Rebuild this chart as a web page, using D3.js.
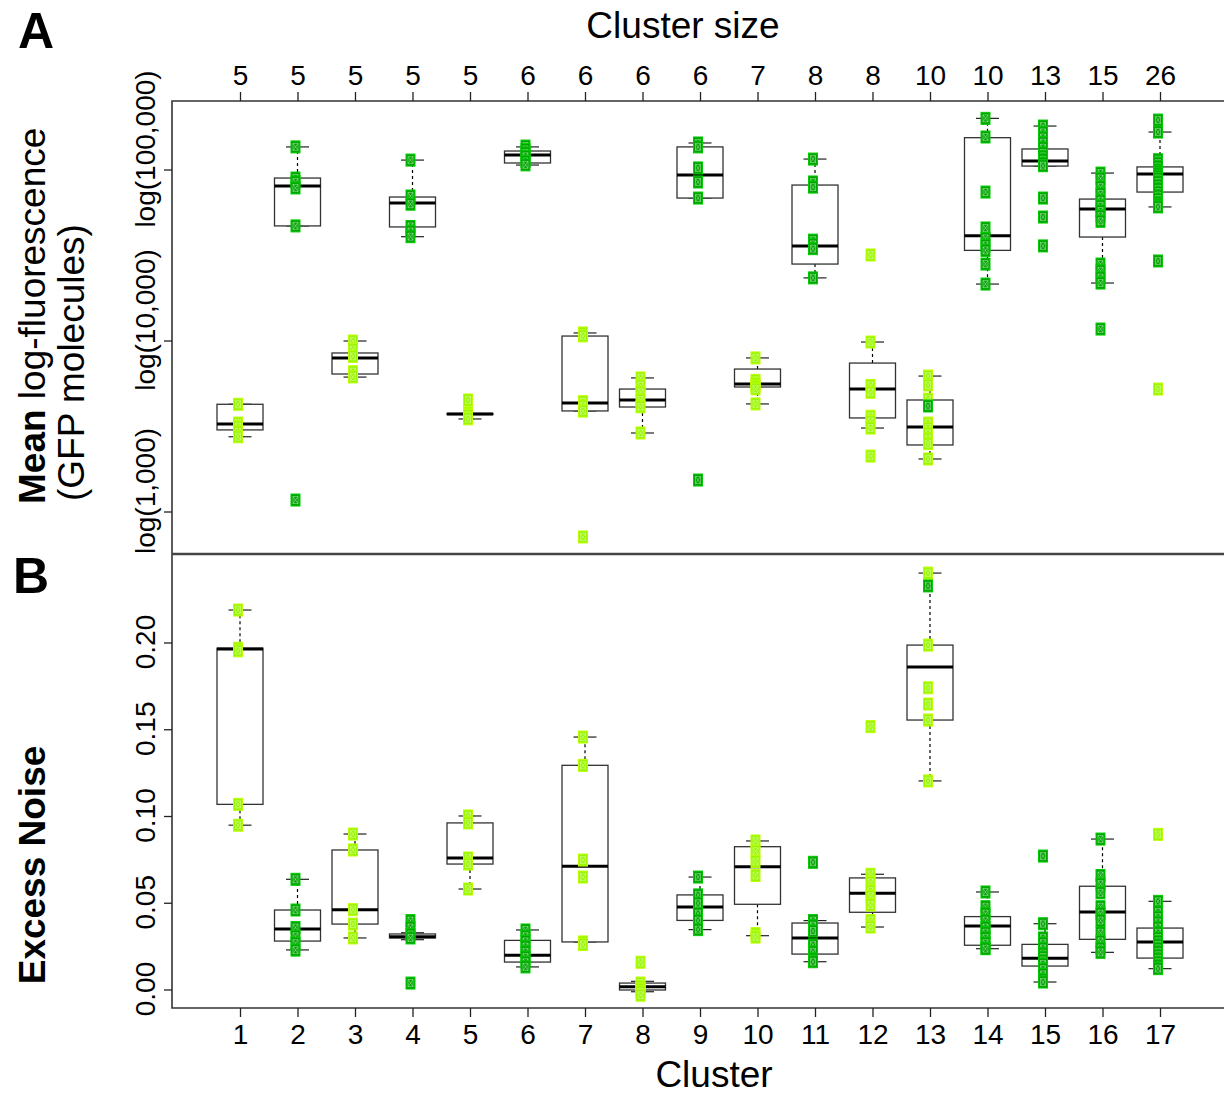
<!DOCTYPE html>
<html>
<head>
<meta charset="utf-8">
<script src="https://cdn.jsdelivr.net/npm/d3@7"></script>
<style>
  body { margin: 0; background: #fff; }
  svg text { font-family: "Liberation Sans", Arial, sans-serif; fill: #000; }
</style>
</head>
<body>
<div id="chart"></div>
<script>
// clusters and their sizes (top axis)
const clusters = d3.range(1, 18);
const clusterSizes = [5, 5, 5, 5, 5, 6, 6, 6, 6, 7, 8, 8, 10, 10, 13, 15, 26];

// panel A: log10 mean fluorescence, box stats [lo whisker, q1, median, q3, hi whisker]
const boxA = [
  [3.44, 3.48, 3.515, 3.63, 3.63],
  [4.673, 4.673, 4.906, 4.953, 5.135],
  [3.789, 3.807, 3.901, 3.93, 4.0],
  [4.61, 4.667, 4.807, 4.842, 5.058],
  [3.544, 3.57, 3.573, 3.576, 3.576],
  [5.029, 5.041, 5.088, 5.111, 5.135],
  [3.591, 3.591, 3.637, 4.029, 4.047],
  [3.462, 3.614, 3.655, 3.719, 3.784],
  [4.836, 4.836, 4.971, 5.135, 5.158],
  [3.632, 3.731, 3.749, 3.836, 3.901],
  [4.369, 4.45, 4.556, 4.912, 5.064],
  [3.491, 3.55, 3.719, 3.871, 3.994],
  [3.31, 3.392, 3.497, 3.655, 3.795],
  [4.333, 4.53, 4.616, 5.189, 5.302],
  [5.023, 5.023, 5.053, 5.123, 5.257],
  [4.339, 4.608, 4.772, 4.83, 4.982],
  [4.784, 4.871, 4.977, 5.018, 5.222]
];
// panel A points, light green and dark green
const lightA = [
  [3.63, 3.52, 3.5, 3.47, 3.44],
  [],
  [4.0, 3.95, 3.91, 3.82, 3.79],
  [],
  [3.655, 3.58, 3.572, 3.565, 3.545],
  [],
  [4.047, 4.03, 3.645, 3.62, 3.59, 2.854],
  [3.784, 3.74, 3.7, 3.655, 3.615, 3.462],
  [],
  [3.901, 3.77, 3.75, 3.735, 3.72, 3.632],
  [],
  [4.503, 3.994, 3.74, 3.7, 3.56, 3.53, 3.491, 3.327],
  [3.795, 3.743, 3.66, 3.52, 3.49, 3.46, 3.43, 3.4, 3.31],
  [],
  [],
  [],
  [3.719]
];
const darkA = [
  [],
  [5.135, 4.953, 4.93, 4.895, 4.673, 3.07],
  [],
  [5.058, 4.848, 4.8, 4.67, 4.64, 4.61],
  [],
  [5.14, 5.12, 5.1, 5.08, 5.05, 5.03],
  [],
  [],
  [5.158, 5.135, 5.012, 4.93, 4.836, 3.187],
  [],
  [5.064, 4.93, 4.9, 4.59, 4.565, 4.54, 4.369],
  [],
  [3.62],
  [5.302, 5.193, 4.871, 4.661, 4.6, 4.56, 4.53, 4.45, 4.333],
  [5.257, 5.22, 5.19, 5.16, 5.13, 5.1, 5.08, 5.06, 5.04, 5.025, 4.836, 4.725, 4.556],
  [4.982, 4.95, 4.9, 4.86, 4.82, 4.79, 4.76, 4.73, 4.7, 4.45, 4.41, 4.37, 4.339, 4.07],
  [5.292, 5.222, 5.06, 5.04, 5.02, 5.0, 4.99, 4.98, 4.97, 4.96, 4.95, 4.93, 4.91, 4.89,
   4.87, 4.85, 4.83, 4.81, 4.8, 4.79, 4.784, 4.468]
];
const ticksA = [3, 4, 5];
const tickLabelsA = ['log(1,000)', 'log(10,000)', 'log(100,000)'];

// panel B: excess noise
const boxB = [
  [0.095, 0.107, 0.1965, 0.197, 0.219],
  [0.0231, 0.0282, 0.0352, 0.0461, 0.0638],
  [0.03, 0.038, 0.0463, 0.0807, 0.0899],
  [0.029, 0.03, 0.0307, 0.0323, 0.033],
  [0.0582, 0.0726, 0.0761, 0.0963, 0.1003],
  [0.0133, 0.0161, 0.02, 0.0286, 0.0346],
  [0.0277, 0.0277, 0.0713, 0.1295, 0.1458],
  [-0.001, 0.0, 0.0019, 0.004, 0.005],
  [0.0348, 0.0401, 0.0478, 0.0548, 0.0651],
  [0.0313, 0.0494, 0.0711, 0.0826, 0.0859],
  [0.0163, 0.0207, 0.03, 0.0386, 0.04],
  [0.0363, 0.0448, 0.0557, 0.0646, 0.0667],
  [0.1205, 0.1556, 0.1862, 0.1988, 0.2403],
  [0.0238, 0.0258, 0.0369, 0.0423, 0.0565],
  [0.0046, 0.0138, 0.0183, 0.0263, 0.0382],
  [0.0217, 0.0292, 0.045, 0.0598, 0.087],
  [0.0123, 0.0184, 0.0277, 0.0357, 0.0511]
];
const lightB = [
  [0.219, 0.197, 0.1955, 0.107, 0.095],
  [],
  [0.0899, 0.0807, 0.0463, 0.038, 0.03],
  [],
  [0.1003, 0.0963, 0.0761, 0.0726, 0.0582],
  [],
  [0.1458, 0.1295, 0.0749, 0.0651, 0.0277, 0.0262],
  [0.016, 0.004, 0.002, 0.0005, -0.001, -0.003],
  [],
  [0.0859, 0.08, 0.074, 0.066, 0.0325, 0.0305],
  [],
  [0.1518, 0.0667, 0.062, 0.057, 0.054, 0.049, 0.04, 0.0363],
  [0.2403, 0.1988, 0.1742, 0.1648, 0.1556, 0.1205],
  [],
  [],
  [],
  [0.0897]
];
const darkB = [
  [],
  [0.0638, 0.0461, 0.036, 0.031, 0.027, 0.023],
  [],
  [0.04, 0.036, 0.032, 0.03, 0.004],
  [],
  [0.0346, 0.031, 0.028, 0.025, 0.022, 0.019, 0.016, 0.0133],
  [],
  [],
  [0.0651, 0.0548, 0.05, 0.044, 0.04, 0.0348],
  [],
  [0.0736, 0.04, 0.037, 0.034, 0.026, 0.022, 0.018, 0.0163],
  [],
  [0.2329],
  [0.0565, 0.048, 0.044, 0.04, 0.036, 0.033, 0.03, 0.027, 0.024, 0.0238],
  [0.0772, 0.0382, 0.03, 0.027, 0.024, 0.021, 0.019, 0.017, 0.015, 0.012, 0.009, 0.006, 0.0046],
  [0.087, 0.066, 0.061, 0.056, 0.048, 0.044, 0.04, 0.033, 0.028, 0.024, 0.0217],
  [0.0511, 0.045, 0.042, 0.039, 0.036, 0.033, 0.03, 0.028, 0.026, 0.024, 0.022, 0.02,
   0.018, 0.016, 0.014, 0.0123]
];
const ticksB = [0, 0.05, 0.1, 0.15, 0.2];

const width = 1224;
const height = 1095;
const frame = { left: 172, right: 1226, topA: 101, mid: 554, bottomB: 1008 };
const LIGHT = '#99f700';
const DARK = '#00a500';

const svg = d3.select('#chart').append('svg')
  .attr('width', width)
  .attr('height', height);

const x = d3.scaleLinear().domain([1, 17]).range([240, 1160]);
const yA = d3.scaleLinear().domain([3, 5]).range([512, 170]);
const yB = d3.scaleLinear().domain([0, 0.2]).range([990, 643]);

const boxHalf = 23;
const capHalf = 11.5;

function drawBoxes(g, boxes, y) {
  boxes.forEach((b, i) => {
    const cx = x(clusters[i]);
    const [lo, q1, med, q3, hi] = b.map(y);
    // dashed whiskers
    g.append('line').attr('x1', cx).attr('x2', cx).attr('y1', q3).attr('y2', hi)
      .attr('stroke', '#000').attr('stroke-width', 1.2).attr('stroke-dasharray', '3,3');
    g.append('line').attr('x1', cx).attr('x2', cx).attr('y1', q1).attr('y2', lo)
      .attr('stroke', '#000').attr('stroke-width', 1.2).attr('stroke-dasharray', '3,3');
    // caps
    [lo, hi].forEach((v) => {
      g.append('line').attr('x1', cx - capHalf).attr('x2', cx + capHalf)
        .attr('y1', v).attr('y2', v).attr('stroke', '#222').attr('stroke-width', 1.2);
    });
    // box
    g.append('rect').attr('x', cx - boxHalf).attr('y', q3)
      .attr('width', boxHalf * 2).attr('height', Math.max(q1 - q3, 0.5))
      .attr('fill', '#fff').attr('stroke', '#333').attr('stroke-width', 1.3);
    // median
    g.append('line').attr('x1', cx - boxHalf).attr('x2', cx + boxHalf)
      .attr('y1', med).attr('y2', med).attr('stroke', '#000').attr('stroke-width', 3);
  });
}

function drawPoints(g, pts, y, color) {
  pts.forEach((arr, i) => {
    const cx = x(clusters[i]) - 2;
    arr.forEach((v) => {
      const py = y(v);
      g.append('rect').attr('x', cx - 4.5).attr('y', py - 6)
        .attr('width', 9).attr('height', 12)
        .attr('fill', color).attr('stroke', d3.color(color).brighter(0.6)).attr('stroke-width', 1);
      g.append('path')
        .attr('d', `M${cx - 2.5},${py - 3.5}L${cx + 2.5},${py + 3.5}M${cx + 2.5},${py - 3.5}L${cx - 2.5},${py + 3.5}M${cx - 2.5},${py - 3.5}H${cx + 2.5}V${py + 3.5}H${cx - 2.5}Z`)
        .attr('fill', 'none').attr('stroke', 'rgba(255,255,255,0.45)').attr('stroke-width', 0.8);
    });
  });
}

const gA = svg.append('g');
const gB = svg.append('g');
drawBoxes(gA, boxA, yA);
drawPoints(gA, lightA, yA, LIGHT);
drawPoints(gA, darkA, yA, DARK);
drawBoxes(gB, boxB, yB);
drawPoints(gB, lightB, yB, LIGHT);
drawPoints(gB, darkB, yB, DARK);

// frames
svg.append('path')
  .attr('d', `M${frame.right},${frame.topA}H${frame.left}V${frame.bottomB}H${frame.right}`)
  .attr('fill', 'none').attr('stroke', '#333').attr('stroke-width', 1.6);
svg.append('line').attr('x1', frame.left).attr('x2', frame.right)
  .attr('y1', frame.mid).attr('y2', frame.mid)
  .attr('stroke', '#444').attr('stroke-width', 2.6);

// top axis: cluster size
const topAxis = svg.append('g')
  .attr('transform', `translate(0,${frame.topA})`)
  .call(d3.axisTop(x).tickValues(clusters).tickFormat((d, i) => clusterSizes[i])
    .tickSize(9).tickPadding(7));
topAxis.select('.domain').remove();
topAxis.selectAll('text').style('font-size', '28px');

// bottom axis: cluster
const bottomAxis = svg.append('g')
  .attr('transform', `translate(0,${frame.bottomB})`)
  .call(d3.axisBottom(x).tickValues(clusters).tickFormat(d3.format('d'))
    .tickSize(9).tickPadding(7));
bottomAxis.select('.domain').remove();
bottomAxis.selectAll('text').style('font-size', '28px');

// rotated y tick labels (shift moves the label centre along the axis)
function leftAxis(scale, values, fmt, shift) {
  const g = svg.append('g')
    .attr('transform', `translate(${frame.left},0)`)
    .call(d3.axisLeft(scale).tickValues(values).tickFormat(fmt).tickSize(8));
  g.select('.domain').remove();
  g.selectAll('.tick').attr('transform', null);
  g.selectAll('.tick line').attr('y1', (d) => scale(d)).attr('y2', (d) => scale(d));
  g.selectAll('text')
    .attr('transform', (d) => `translate(-17,${scale(d) + shift}) rotate(-90)`)
    .attr('x', 0).attr('y', 0).attr('dy', 0)
    .attr('text-anchor', 'middle')
    .style('font-size', '28px');
  return g;
}
leftAxis(yA, ticksA, (d, i) => tickLabelsA[i], -21);
leftAxis(yB, ticksB, d3.format('.2f'), -1);

svg.selectAll('.tick line').attr('stroke', '#222').attr('stroke-width', 1.3);

// titles
svg.append('text').attr('x', 683).attr('y', 38)
  .attr('text-anchor', 'middle').style('font-size', '37px')
  .text('Cluster size');
svg.append('text').attr('x', 714).attr('y', 1087)
  .attr('text-anchor', 'middle').style('font-size', '37px')
  .text('Cluster');

svg.append('text').attr('x', 18).attr('y', 48)
  .style('font-size', '50px').style('font-weight', 'bold').text('A');
svg.append('text').attr('x', 13).attr('y', 593)
  .style('font-size', '50px').style('font-weight', 'bold').text('B');

const yTitleA = svg.append('text')
  .attr('transform', 'translate(45,504) rotate(-90)')
  .attr('text-anchor', 'start').style('font-size', '37px');
yTitleA.append('tspan').style('font-weight', 'bold').text('Mean');
yTitleA.append('tspan').text(' log-fluorescence');
svg.append('text')
  .attr('transform', 'translate(84,501) rotate(-90)')
  .attr('text-anchor', 'start').style('font-size', '37px')
  .text('(GFP molecules)');

svg.append('text')
  .attr('transform', 'translate(45,865) rotate(-90)')
  .attr('text-anchor', 'middle').style('font-size', '37px').style('font-weight', 'bold')
  .text('Excess Noise');
</script>
</body>
</html>
